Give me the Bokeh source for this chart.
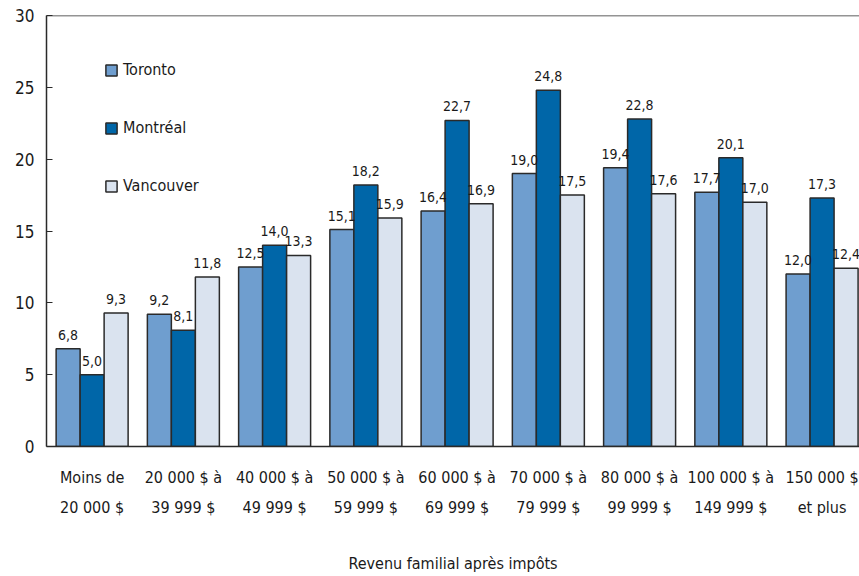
from bokeh.plotting import figure
from bokeh.models import (ColumnDataSource, LabelSet, Legend, LegendItem, Range1d,
                          FixedTicker, Span)
from bokeh.core.properties import value
from bokeh.embed import file_html
from bokeh.resources import INLINE

# Income brackets (after-tax family income)
categories = [
    "Moins de\n20 000 $",
    "20 000 $ à\n39 999 $",
    "40 000 $ à\n49 999 $",
    "50 000 $ à\n59 999 $",
    "60 000 $ à\n69 999 $",
    "70 000 $ à\n79 999 $",
    "80 000 $ à\n99 999 $",
    "100 000 $ à\n149 999 $",
    "150 000 $\net plus",
]
toronto = [6.8, 9.2, 12.5, 15.1, 16.4, 19.0, 19.4, 17.7, 12.0]
montreal = [5.0, 8.1, 14.0, 18.2, 22.7, 24.8, 22.8, 20.1, 17.3]
vancouver = [9.3, 11.8, 13.3, 15.9, 16.9, 17.5, 17.6, 17.0, 12.4]
series_names = ["Toronto", "Montréal", "Vancouver"]
y_ticks = [0, 5, 10, 15, 20, 25, 30]

FONT = "DejaVu Sans Condensed"
colors = ["#6f9ecf", "#0066a8", "#dae3ef"]
bar_w = 0.263
offsets = [-bar_w, 0.0, bar_w]

centers = [i + 0.5 for i in range(len(categories))]

p = figure(width=859, height=576, output_backend="svg", toolbar_location=None,
           x_range=Range1d(0, 8.91), y_range=Range1d(0, 30),
           min_border_left=46, min_border_right=0, min_border_top=15,
           min_border_bottom=130)
p.outline_line_color = None
p.xgrid.grid_line_color = None
p.ygrid.grid_line_color = None
p.background_fill_color = "white"
p.border_fill_color = "white"

items = []
for name, vals, off, col in zip(series_names, [toronto, montreal, vancouver], offsets, colors):
    src = ColumnDataSource(dict(x=[c + off for c in centers], top=vals,
                                lbl=[f"{v:.1f}".replace(".", ",") for v in vals]))
    r = p.vbar(x="x", top="top", width=bar_w, source=src, fill_color=col,
               line_color="#2a2a2a", line_width=1.5)
    items.append(LegendItem(label=name, renderers=[r]))
    p.add_layout(LabelSet(x="x", y="top", text="lbl", source=src, y_offset=9,
                          text_align="center", text_baseline="bottom",
                          text_font=value(FONT), text_font_size="14px",
                          text_color="#1a1a1a"))

legend = Legend(items=items, location=(58, 251), orientation="vertical",
                glyph_width=14, glyph_height=14, spacing=39, label_standoff=5,
                label_text_font=FONT, label_text_font_size="16px",
                label_text_color="#1a1a1a", border_line_color=None,
                background_fill_alpha=0, padding=4, label_height=14)
p.add_layout(legend, "center")

# top edge of the frame
p.add_layout(Span(location=30, dimension="width", line_color="#2a2a2a", line_width=1.5))

# y axis
p.yaxis.ticker = FixedTicker(ticks=y_ticks)
p.yaxis.major_tick_in = 6
p.yaxis.major_tick_out = 0
p.yaxis.minor_tick_line_color = None
p.yaxis.axis_line_color = "#2a2a2a"
p.yaxis.axis_line_width = 1.5
p.yaxis.major_tick_line_color = "#2a2a2a"
p.yaxis.major_label_text_font = FONT
p.yaxis.major_label_text_font_size = "17px"
p.yaxis.major_label_text_color = "#1a1a1a"
p.yaxis.major_label_standoff = 12

# x axis
p.xaxis.ticker = FixedTicker(ticks=centers)
p.xaxis.major_label_overrides = {c: lab for c, lab in zip(centers, categories)}
p.xaxis.major_tick_line_color = None
p.xaxis.minor_tick_line_color = None
p.xaxis.axis_line_color = "#2a2a2a"
p.xaxis.axis_line_width = 1.5
p.xaxis.major_label_text_font = FONT
p.xaxis.major_label_text_font_size = "16px"
p.xaxis.major_label_text_line_height = 1.6
p.xaxis.major_label_text_color = "#1a1a1a"
p.xaxis.major_label_standoff = 15
p.xaxis.axis_label = "Revenu familial après impôts"
p.xaxis.axis_label_text_font = FONT
p.xaxis.axis_label_text_font_size = "16px"
p.xaxis.axis_label_text_font_style = "normal"
p.xaxis.axis_label_text_color = "#1a1a1a"
p.xaxis.axis_label_standoff = 34

open("out.html", "w").write(file_html(p, INLINE))
